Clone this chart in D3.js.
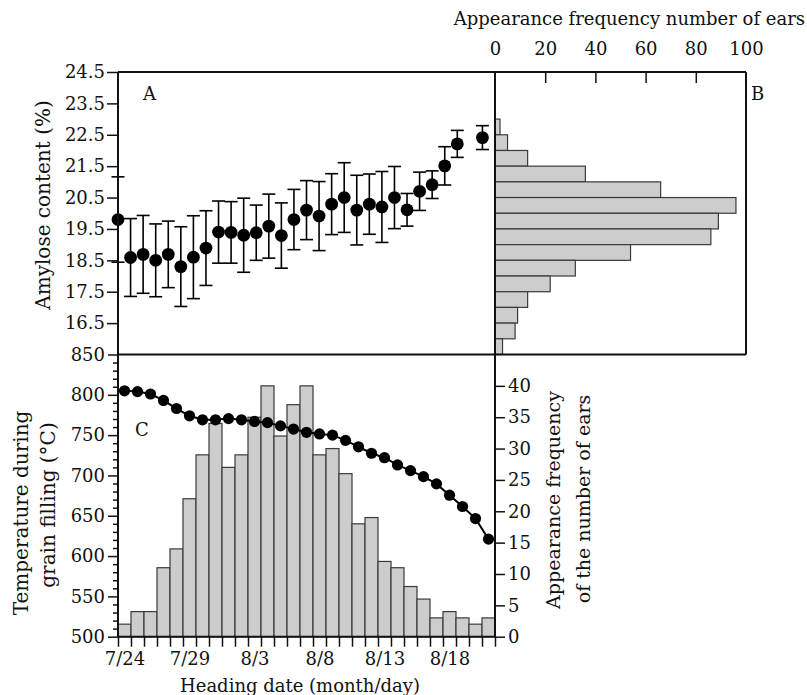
<!DOCTYPE html>
<html>
<head>
<meta charset="utf-8">
<script src="https://cdn.jsdelivr.net/npm/d3@7"></script>
<style>
  html, body { margin: 0; padding: 0; background: #fff; }
  svg { display: block; }
  text { font-family: "DejaVu Serif", serif; fill: #111; }
</style>
</head>
<body>
<svg id="chart" width="807" height="695"></svg>
<script>
// ---- Panel A: amylose content by heading day (index from 7/24), mean ± SD ----
const amyloseDay  = [0, 1, 2, 3, 4, 5, 6, 7, 8, 9, 10, 11, 12, 13, 14, 15, 16, 17, 18, 19, 20, 21, 22, 23, 24, 25, 26, 27, 29];
const amyloseMean = [19.80, 18.59, 18.69, 18.50, 18.69, 18.30, 18.60, 18.89, 19.40, 19.39, 19.30, 19.38, 19.59, 19.29, 19.80, 20.10, 19.91, 20.29, 20.50, 20.10, 20.29, 20.20, 20.50, 20.11, 20.70, 20.91, 21.51, 22.21, 22.41];
const amyloseSD   = [1.36, 1.24, 1.24, 1.16, 1.06, 1.27, 1.32, 1.19, 0.99, 0.98, 1.18, 0.88, 1.02, 1.04, 0.96, 0.94, 1.10, 0.97, 1.11, 1.11, 0.96, 1.13, 0.99, 0.52, 0.61, 0.44, 0.61, 0.43, 0.38];
const amyloseTicks = [16.5, 17.5, 18.5, 19.5, 20.5, 21.5, 22.5, 23.5, 24.5];

// ---- Panel B: distribution of amylose content (0.5 % bins, lower edge) ----
const binLower = [22.5, 22.0, 21.5, 21.0, 20.5, 20.0, 19.5, 19.0, 18.5, 18.0, 17.5, 17.0, 16.5, 16.0, 15.5];
const binCount = [2, 5, 13, 36, 66, 96, 89, 86, 54, 32, 22, 13, 9, 8, 3];
const countTicks = [0, 20, 40, 60, 80, 100];

// ---- Panel C: heading dates, ears per day and accumulated temperature ----
const headingDates = ["7/24", "7/25", "7/26", "7/27", "7/28", "7/29", "7/30", "7/31", "8/1", "8/2",
  "8/3", "8/4", "8/5", "8/6", "8/7", "8/8", "8/9", "8/10", "8/11", "8/12",
  "8/13", "8/14", "8/15", "8/16", "8/17", "8/18", "8/19", "8/20", "8/21"];
const earsPerDay = [2, 4, 4, 11, 14, 22, 29, 34, 27, 29, 35, 40, 32, 37, 40, 29, 30, 26, 18, 19, 12, 11, 8, 6, 3, 4, 3, 2, 3];
const tempSum = [805, 804, 801, 793, 783, 774, 769, 769, 770.5, 769, 767, 765.5, 761.5, 757.5, 753.5, 751.5, 750, 743.5, 735.5, 727.5, 722, 713, 706, 698.5, 689.5, 675.5, 661.5, 646.5, 621];
const dateLabels = ["7/24", "7/29", "8/3", "8/8", "8/13", "8/18"];
const tempTicks = [500, 550, 600, 650, 700, 750, 800, 850];
const earTicks = [0, 5, 10, 15, 20, 25, 30, 35, 40];

const svg = d3.select("#chart");

// frame geometry
const xL = 118, xM = 495, xR = 746;
const yT = 72, yM = 354.5, yB = 636.7;
const FS = 18;

// scales
const yAmy = d3.scaleLinear().domain([15.5, 24.5]).range([yM, yT]);
const xDayA = d3.scaleLinear().domain([0, 30]).range([xL, xM]);
const xCnt = d3.scaleLinear().domain([0, 100]).range([xM, xR]);
const xDay = d3.scaleLinear().domain([0, headingDates.length]).range([xL, xM]);
const yTemp = d3.scaleLinear().domain([500, 850]).range([yB, yM]);
const yEar = d3.scaleLinear().domain([0, 45]).range([yB, yM]);

function styleAxis(g) {
  g.select(".domain").remove();
  g.selectAll("line").attr("stroke", "#111").attr("stroke-width", 1.5);
  g.selectAll("text").attr("font-size", FS).attr("font-family", "DejaVu Serif").attr("fill", "#111");
}

// ---------------- Panel C bars (drawn first so frames sit on top) ----------------
const barData = earsPerDay.map((v, i) => ({ i, v }));
svg.append("g").selectAll("rect").data(barData).join("rect")
  .attr("x", d => xDay(d.i))
  .attr("y", d => yEar(d.v))
  .attr("width", d => xDay(d.i + 1) - xDay(d.i))
  .attr("height", d => yEar(0) - yEar(d.v))
  .attr("fill", "#cdcdcd")
  .attr("stroke", "#3a3a3a")
  .attr("stroke-width", 1.2);

// temperature curve
const tempPts = tempSum.map((v, i) => ({ x: xDay(i + 0.5), y: yTemp(v) }));
svg.append("path")
  .datum(tempPts)
  .attr("fill", "none")
  .attr("stroke", "#000")
  .attr("stroke-width", 2)
  .attr("d", d3.line().x(d => d.x).y(d => d.y));
svg.append("g").selectAll("circle").data(tempPts).join("circle")
  .attr("cx", d => d.x).attr("cy", d => d.y).attr("r", 5.6).attr("fill", "#000");

// ---------------- Panel B bars ----------------
svg.append("g").selectAll("rect").data(binLower.map((lo, k) => ({ lo, n: binCount[k] }))).join("rect")
  .attr("x", xCnt(0))
  .attr("y", d => yAmy(d.lo + 0.5))
  .attr("width", d => xCnt(d.n) - xCnt(0))
  .attr("height", d => yAmy(d.lo) - yAmy(d.lo + 0.5))
  .attr("fill", "#cdcdcd")
  .attr("stroke", "#3a3a3a")
  .attr("stroke-width", 1.2);

// ---------------- Panel A points with error bars ----------------
const amy = amyloseDay.map((d, k) => ({ d, m: amyloseMean[k], s: amyloseSD[k] }));
const eb = svg.append("g").attr("stroke", "#000").attr("stroke-width", 1.6);
eb.selectAll("line.v").data(amy).join("line").attr("class", "v")
  .attr("x1", d => xDayA(d.d)).attr("x2", d => xDayA(d.d))
  .attr("y1", d => yAmy(d.m + d.s)).attr("y2", d => yAmy(d.m - d.s));
eb.selectAll("line.u").data(amy).join("line").attr("class", "u")
  .attr("x1", d => xDayA(d.d) - 6.5).attr("x2", d => xDayA(d.d) + 6.5)
  .attr("y1", d => yAmy(d.m + d.s)).attr("y2", d => yAmy(d.m + d.s));
eb.selectAll("line.l").data(amy).join("line").attr("class", "l")
  .attr("x1", d => xDayA(d.d) - 6.5).attr("x2", d => xDayA(d.d) + 6.5)
  .attr("y1", d => yAmy(d.m - d.s)).attr("y2", d => yAmy(d.m - d.s));
svg.append("g").selectAll("circle").data(amy).join("circle")
  .attr("cx", d => xDayA(d.d)).attr("cy", d => yAmy(d.m)).attr("r", 6.4).attr("fill", "#000");

// ---------------- frames ----------------
const frame = svg.append("g").attr("stroke", "#111").attr("stroke-width", 2).attr("fill", "none");
frame.append("line").attr("x1", xL).attr("x2", xR).attr("y1", yT).attr("y2", yT);
frame.append("line").attr("x1", xL).attr("x2", xR).attr("y1", yM).attr("y2", yM);
frame.append("line").attr("x1", xL).attr("x2", xM).attr("y1", yB).attr("y2", yB);
frame.append("line").attr("x1", xL).attr("x2", xL).attr("y1", yT).attr("y2", yB);
frame.append("line").attr("x1", xM).attr("x2", xM).attr("y1", yT).attr("y2", yB);
frame.append("line").attr("x1", xR).attr("x2", xR).attr("y1", yT).attr("y2", yM);

// ---------------- axes ----------------
// A: amylose (left)
svg.append("g").attr("transform", `translate(${xL},0)`)
  .call(d3.axisLeft(yAmy).tickValues(amyloseTicks).tickFormat(d3.format(".1f")).tickSize(11).tickPadding(2))
  .call(styleAxis);

// B: counts (top), labels above, ticks pointing inward
svg.append("g").attr("transform", `translate(0,${yT})`)
  .call(d3.axisTop(xCnt).tickValues(countTicks).tickSize(0).tickPadding(17))
  .call(styleAxis);
svg.append("g").attr("transform", `translate(0,${yT})`)
  .call(d3.axisTop(xCnt).tickValues([20, 40, 60, 80]).tickFormat("").tickSize(-11))
  .call(styleAxis);

// C: temperature (left), major + minor ticks
svg.append("g").attr("transform", `translate(${xL},0)`)
  .call(d3.axisLeft(yTemp).tickValues(d3.range(500, 851, 10).filter(v => v % 50 !== 0)).tickFormat("").tickSize(5))
  .call(styleAxis);
svg.append("g").attr("transform", `translate(${xL},0)`)
  .call(d3.axisLeft(yTemp).tickValues(tempTicks).tickSize(10).tickPadding(3))
  .call(styleAxis);

// C: ears per day (right)
svg.append("g").attr("transform", `translate(${xM},0)`)
  .call(d3.axisRight(yEar).tickValues(earTicks).tickSize(10).tickPadding(3))
  .call(styleAxis);

// C: heading dates (bottom) - ticks on day boundaries, labels centred on days
svg.append("g").attr("transform", `translate(0,${yB})`)
  .call(d3.axisBottom(xDay).tickValues(d3.range(0, headingDates.length + 1)).tickFormat("").tickSize(10))
  .call(styleAxis);
svg.append("g").attr("transform", `translate(0,${yB})`)
  .call(d3.axisBottom(xDay)
    .tickValues(dateLabels.map(s => headingDates.indexOf(s) + 0.5))
    .tickFormat(v => headingDates[Math.floor(v)])
    .tickSize(0).tickPadding(16))
  .call(styleAxis);

// ---------------- titles and panel letters ----------------
function label(x, y, txt, opts = {}) {
  const t = svg.append("text")
    .attr("x", x).attr("y", y)
    .attr("font-size", opts.size || FS)
    .attr("text-anchor", opts.anchor || "middle")
    .text(txt);
  if (opts.rotate) t.attr("transform", `rotate(${opts.rotate},${x},${y})`);
  if (opts.dy) t.attr("dy", opts.dy);
  return t;
}

label(143, 100, "A", { anchor: "start" });
label(751, 100, "B", { anchor: "start" });
label(135, 436, "C", { anchor: "start" });

label(805, 25, "Appearance frequency number of ears", { anchor: "end" });
label(43, 205, "Amylose content (%)", { rotate: -90, dy: "0.35em", size: 20 });
label(21, 513, "Temperature during", { rotate: -90, dy: "0.35em", size: 20 });
label(48, 505, "grain filling (°C)", { rotate: -90, dy: "0.35em", size: 20 });
label(553, 500, "Appearance frequency", { rotate: -90, dy: "0.35em", size: 19 });
label(583, 499, "of the number of ears", { rotate: -90, dy: "0.35em", size: 19 });
label(300, 692, "Heading date (month/day)");
</script>
</body>
</html>
